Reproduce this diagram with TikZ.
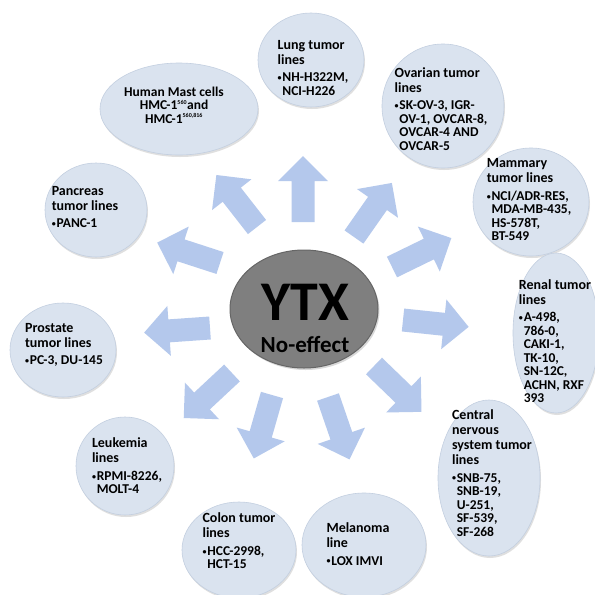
\documentclass[tikz,border=0pt]{standalone}
\usepackage{fontspec}
\setmainfont{Carlito}
\usetikzlibrary{shapes.geometric,shadows}
\definecolor{ellfill}{HTML}{DAE3EF}
\definecolor{elledge}{HTML}{C3CFE0}
\definecolor{arrfill}{HTML}{B4C8EC}
\definecolor{hubfill}{HTML}{7F7F7F}
\definecolor{hubedge}{HTML}{666666}
\tikzset{
  sat/.style={ellipse, fill=ellfill, draw=elledge, line width=0.6pt, inner sep=0pt,
    drop shadow={shadow xshift=1pt, shadow yshift=-2pt, opacity=0.25}},
  lbl/.style={align=left, inner sep=0pt, font=\bfseries\fontsize{13.5}{13.5}\selectfont},
  blk/.style={fill=arrfill},
  hub/.style={ellipse, fill=hubfill, draw=hubedge, line width=1pt, inner sep=0pt,
    drop shadow={shadow xshift=1.5pt, shadow yshift=-2pt, opacity=0.3}},
}
\newcommand\hl[1]{{\fontsize{14}{14}\selectfont #1}}
\newcommand\bul{\raisebox{1.3pt}{\fontsize{8}{8}\selectfont\textbullet}\hspace{0.8pt}}
\newcommand\ind{\phantom{\bul}}
\newcommand\blkarrow[3]{\begin{scope}[shift={(#1,#2)},rotate=#3]
  \path[blk] (0,-11.5) -- (41,-11.5) -- (41,-25) -- (66,0) -- (41,25) -- (41,11.5) -- (0,11.5) -- cycle;
  \end{scope}}
\begin{document}
\begin{tikzpicture}[x=1pt,y=-1pt]
\useasboundingbox (0,0) rectangle (595,595);
\fill[white] (0,0) rectangle (595,595);
% satellites
\node[sat, minimum width=158pt, minimum height=92pt] (mast) at (179,109) {};
\node[sat, minimum width=106pt, minimum height=94pt] (lung) at (311,60) {};
\node[sat, minimum width=122pt, minimum height=124pt] (ovar) at (443,106) {};
\node[sat, minimum width=116pt, minimum height=108pt] (mamm) at (531,202) {};
\node[sat, minimum width=86pt, minimum height=160pt] (renal) at (556,333) {};
\node[sat, minimum width=102pt, minimum height=156pt] (cns) at (489,478) {};
\node[sat, minimum width=124pt, minimum height=104pt] (mela) at (364,545) {};
\node[sat, minimum width=114pt, minimum height=96pt] (colon) at (239,550) {};
\node[sat, minimum width=98pt, minimum height=98pt] (leuk) at (125,466) {};
\node[sat, minimum width=106pt, minimum height=94pt] (prost) at (63,350) {};
\node[sat, minimum width=102pt, minimum height=94pt] (panc) at (96,210) {};
% hub
\node[hub, minimum width=148pt, minimum height=118pt] (ytx) at (304,309) {};
\node[anchor=base, inner sep=0pt, font=\bfseries\fontsize{56}{56}\selectfont] (ytxt) at (305,320) {YTX};
\node[anchor=base, inner sep=0pt, font=\bfseries\fontsize{23}{23}\selectfont] (noeff) at (305,352) {No-effect};
% block arrows
\blkarrow{303}{222}{90}
\blkarrow{354}{237}{55}
\blkarrow{392}{267}{26}
\blkarrow{403}{320}{-6}
\blkarrow{374}{366}{-44}
\blkarrow{328}{397}{-71}
\blkarrow{272}{395}{-106}
\blkarrow{232}{373}{-137}
\blkarrow{210}{328}{-176}
\blkarrow{220}{263}{162}
\blkarrow{257}{227}{128}
% labels
\node[lbl, align=center] (mast-t) at (174,105) {Human Mast cells\\HMC-1\textsuperscript{\fontsize{6}{6}\selectfont 560}and\\HMC-1\textsuperscript{\fontsize{6}{6}\selectfont 560,816}};
\node[lbl] (lung-t) at (313,68) {\hl{Lung tumor}\\[1.5pt]\hl{lines}\\[4pt]\bul NH-H322M,\\\ind NCI-H226};
\node[lbl] (ovar-t) at (441,109) {\hl{Ovarian tumor}\\[1.5pt]\hl{lines}\\[4pt]\bul SK-OV-3, IGR-\\\ind OV-1, OVCAR-8,\\\ind OVCAR-4 AND\\\ind OVCAR-5};
\node[lbl] (mamm-t) at (529,200) {\hl{Mammary}\\[1.5pt]\hl{tumor lines}\\[4pt]\bul NCI/ADR-RES,\\\ind MDA-MB-435,\\\ind HS-578T,\\\ind BT-549};
\node[lbl] (renal-t) at (555,341) {\hl{Renal tumor}\\[1.5pt]\hl{lines}\\[4pt]\bul A-498,\\\ind 786-0,\\\ind CAKI-1,\\\ind TK-10,\\\ind SN-12C,\\\ind ACHN, RXF\\\ind 393};
\node[lbl] (cns-t) at (492,473) {\hl{Central}\\[1.5pt]\hl{nervous}\\[1.5pt]\hl{system tumor}\\[1.5pt]\hl{lines}\\[4pt]\bul SNB-75,\\\ind SNB-19,\\\ind U-251,\\\ind SF-539,\\\ind SF-268};
\node[lbl] (mela-t) at (358,544) {\hl{Melanoma}\\[1.5pt]\hl{line}\\[4pt]\bul LOX IMVI};
\node[lbl] (colon-t) at (239,541) {\hl{Colon tumor}\\[1.5pt]\hl{lines}\\[4pt]\bul HCC-2998,\\\ind HCT-15};
\node[lbl] (leuk-t) at (127,466) {\hl{Leukemia}\\[1.5pt]\hl{lines}\\[4pt]\bul RPMI-8226,\\\ind MOLT-4};
\node[lbl] (prost-t) at (64,345) {\hl{Prostate}\\[1.5pt]\hl{tumor lines}\\[4pt]\bul PC-3, DU-145};
\node[lbl] (panc-t) at (85,207) {\hl{Pancreas}\\[1.5pt]\hl{tumor lines}\\[4pt]\bul PANC-1};
\end{tikzpicture}
\end{document}
